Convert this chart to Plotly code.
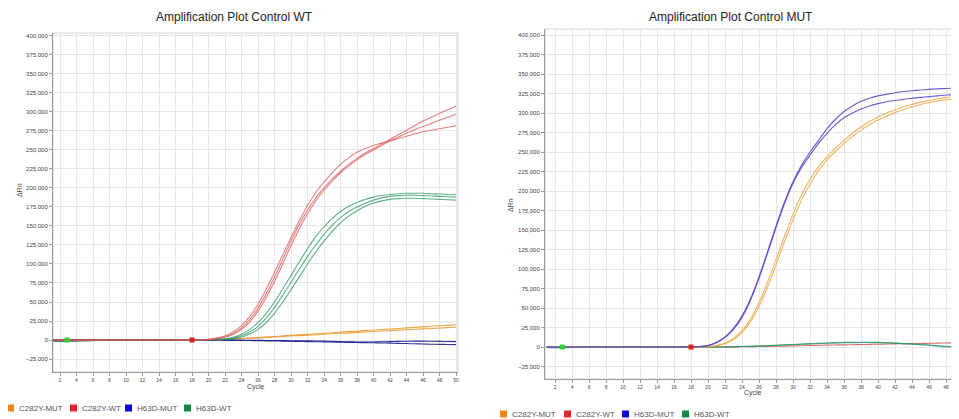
import plotly.graph_objects as go

# page body has an 8px margin, so the figure is sized to end at the window edge
OFF = 8
W, H = 959 - OFF, 419 - OFF

cycles = list(range(1, 51))

# ---------------- Control WT (left) ----------------
wt_c282y_wt = [
    [0, 0, -200, -300, -200, -100, 0, 0, 100, 0, -100, 0, 0, 100, 0, 0, 100, 200, 400,
     800, 2000, 4500, 9000, 16000, 27000, 42000, 61000, 83000, 106000, 130000,
     152000, 171000, 187000, 200000, 212000, 222000, 231000, 239000, 246000, 252000,
     258000, 264000, 270000, 276000, 282000, 288000, 293000, 298000, 303000, 308000],
    [0, -100, -200, -200, -100, 0, 0, 100, 0, 0, 0, 0, 100, 0, 0, 100, 100, 200, 300,
     500, 1500, 3500, 7500, 14000, 24000, 38000, 56000, 77000, 100000, 124000,
     146000, 166000, 183000, 197000, 209000, 220000, 229000, 237000, 244000, 250000,
     256000, 262000, 267000, 272000, 277000, 281000, 285000, 289000, 293000, 297000],
    [0, 0, -100, -200, -200, -100, 0, 0, 0, 100, 0, 0, 0, 0, 100, 100, 200, 300, 500,
     1000, 2500, 5500, 11000, 19000, 31000, 47000, 67000, 89000, 112000, 135000,
     157000, 177000, 194000, 208000, 220000, 231000, 240000, 247000, 252000, 256000,
     259000, 262000, 265000, 268000, 271000, 274000, 276000, 278000, 280000, 282000],
]

wt_h63d_wt = [
    [-1500, -1800, -1500, -1200, -900, -700, -500, -400, -300, -200, -100, 0, 0, 0, 0, 100, 100, 200, 300,
     500, 900, 1500, 3500, 7500, 14000, 23000, 35000, 50000, 67000, 85000,
     103000, 120000, 136000, 149000, 160000, 169000, 176000, 181000, 185000, 188000,
     190000, 191500, 192500, 193000, 193000, 193000, 192500, 192000, 191500, 191000],
    [-1600, -1900, -1600, -1300, -1000, -800, -600, -400, -300, -200, -100, 0, 0, 0, 0, 0, 100, 100, 200,
     400, 700, 1000, 2500, 5500, 10500, 18000, 29000, 43000, 59000, 76000,
     93000, 110000, 125000, 139000, 151000, 161000, 169000, 175000, 180000, 184000,
     187000, 189000, 190000, 190500, 190500, 190000, 189500, 189000, 188500, 188000],
    [-1400, -1700, -1400, -1100, -900, -700, -500, -300, -200, -100, 0, 0, 0, 0, 0, 0, 100, 100, 200,
     300, 500, 700, 1800, 4000, 8000, 14000, 23000, 35000, 50000, 66000,
     83000, 100000, 116000, 130000, 143000, 154000, 163000, 170000, 176000, 180000,
     183000, 185000, 186000, 186500, 186500, 186000, 185500, 185000, 184500, 184000],
]

wt_c282y_mut = [
    [-300, -300, -200, -200, -100, -100, 0, 0, 0, 0, 0, 0, 0, 0, 0, 0, 0, 0, 100,
     100, 200, 600, 1200, 1900, 2600, 3300, 3900, 4600, 5400, 6100,
     6800, 7400, 8200, 8900, 9600, 10300, 11000, 11600, 12400, 13100,
     13800, 14500, 15200, 15900, 16600, 17300, 18000, 18700, 19300, 20000],
    [-300, -200, -200, -100, -100, 0, 0, 0, 0, 0, 0, 0, 0, 0, 0, 0, 0, 0, 0,
     100, 200, 500, 1000, 1600, 2200, 2800, 3400, 4000, 4600, 5200,
     5800, 6400, 7000, 7600, 8200, 8800, 9400, 10000, 10600, 11200,
     11800, 12400, 13000, 13500, 14100, 14600, 15200, 15700, 16300, 16800],
]

wt_h63d_mut = [
    [-200, -200, -100, -100, 0, 0, 0, 0, 0, 0, 0, 0, 0, 0, 0, 0, 0, 0, 0,
     0, 0, -100, -300, -500, -700, -900, -1100, -1300, -1500, -1700,
     -1900, -2100, -2300, -2500, -2700, -2900, -3100, -3300, -3500, -3700,
     -3900, -4100, -4400, -4700, -5000, -5300, -5500, -5700, -5900, -6100],
    [-200, -100, -100, 0, 0, 0, 0, 0, 0, 0, 0, 0, 0, 0, 0, 0, 0, 0, 0,
     0, 0, -100, -200, -300, -400, -500, -600, -700, -800, -900,
     -1000, -1100, -1300, -1500, -1800, -2100, -2400, -2600, -2700, -2600,
     -2400, -2100, -1800, -1600, -1500, -1500, -1600, -1800, -2000, -2200],
]

# ---------------- Control MUT (right) ----------------
mut_h63d_mut = [
    [0, 0, 0, 0, 0, 0, 0, 0, 0, 0, 0, 0, 0, 0, 0, 0, 100, 200, 600,
     2000, 6000, 13000, 24000, 40000, 62000, 90000, 122000, 155000, 186000, 212000,
     233000, 250000, 265000, 280000, 292000, 302000, 309000, 315000, 319000, 322000,
     324000, 326000, 327500, 328500, 329500, 330300, 331000, 331500, 332000, 332300],
    [0, 0, 0, 0, 0, 0, 0, 0, 0, 0, 0, 0, 0, 0, 0, 0, 100, 200, 500,
     1800, 5500, 12000, 22500, 38000, 60000, 88000, 120000, 153000, 184000, 210000,
     230000, 246000, 261000, 274000, 285000, 294000, 300000, 305000, 309000, 312000,
     314500, 316000, 317500, 319000, 320000, 321000, 322000, 323000, 323500, 324000],
]

mut_c282y_mut = [
    [0, 0, 0, 0, 0, 0, 0, 0, 0, 0, 0, 0, 0, 0, 0, 0, 0, 100, 300,
     800, 2000, 5000, 11000, 21000, 36000, 57000, 83000, 112000, 142000, 170000,
     195000, 215000, 231000, 244000, 255000, 265000, 274000, 282000, 289000, 295000,
     300000, 304000, 308000, 311000, 314000, 316000, 318000, 320000, 321000, 322000],
    [0, 0, 0, 0, 0, 0, 0, 0, 0, 0, 0, 0, 0, 0, 0, 0, 0, 100, 200,
     600, 1600, 4200, 9500, 18500, 32500, 52000, 77000, 105000, 135000, 163000,
     188000, 209000, 226000, 240000, 251000, 261000, 270000, 278000, 285000, 291000,
     296000, 300500, 304500, 308000, 311000, 313500, 315500, 317000, 318000, 319000],
]

mut_c282y_wt = [
    [500, 400, 300, 200, 100, 0, 0, 0, 0, 0, 0, 0, 0, 0, 0, 0, 0, 0, 0,
     0, 0, 100, 200, 300, 400, 600, 800, 1000, 1200, 1400,
     1700, 2000, 2200, 2400, 2600, 2800, 3000, 3200, 3400, 3600,
     3800, 4000, 4200, 4400, 4600, 4800, 5000, 5200, 5500, 5800],
]

mut_h63d_wt = [
    [-800, -1000, -900, -700, -500, -300, -200, -100, 0, 0, 0, 0, 0, 0, 0, 0, 0, 0, 0,
     0, 0, 200, 400, 700, 1000, 1400, 1800, 2300, 2800, 3300,
     3800, 4300, 4800, 5200, 5600, 5900, 6100, 6200, 6100, 5900,
     5500, 5000, 4400, 3700, 3000, 2200, 1300, 400, -500, -1500],
    [-700, -900, -800, -600, -400, -300, -200, -100, 0, 0, 0, 0, 0, 0, 0, 0, 0, 0, 0,
     0, 0, 100, 300, 600, 900, 1200, 1600, 2000, 2500, 3000,
     3500, 4000, 4400, 4800, 5100, 5400, 5600, 5700, 5700, 5600,
     5300, 4900, 4400, 3800, 3200, 2500, 1700, 900, 0, -900],
]

threshold_cycles = [2.85, 18]

legend_names = ["C282Y-MUT", "C282Y-WT", "H63D-MUT", "H63D-WT"]
legend_colors = ["#f0851a", "#e8262b", "#0a0ad8", "#128a45"]

y_ticks = list(range(-25000, 400001, 25000))
x_ticks = list(range(2, 51, 2))

# ---------------- figure ----------------
fig = go.Figure()


def px_x(p):
    return (p - OFF) / W


def px_y(p):
    return 1 - (p - OFF) / H


def add_lines(series, color, xa, ya):
    for s in series:
        fig.add_trace(go.Scatter(x=cycles, y=s, mode="lines", xaxis=xa, yaxis=ya,
                                 line=dict(color=color, width=1.1, shape="spline", smoothing=0.6),
                                 showlegend=False, hoverinfo="skip"))


add_lines(wt_c282y_mut, "rgba(232,150,40,0.85)", "x", "y")
add_lines(wt_h63d_mut, "rgba(25,25,140,0.9)", "x", "y")
add_lines(wt_h63d_wt, "rgba(40,150,95,0.75)", "x", "y")
add_lines(wt_c282y_wt, "rgba(215,85,85,0.75)", "x", "y")

add_lines(mut_c282y_wt, "rgba(215,70,70,0.8)", "x2", "y2")
add_lines(mut_h63d_wt, "rgba(40,150,100,0.75)", "x2", "y2")
add_lines(mut_c282y_mut, "rgba(240,170,80,0.9)", "x2", "y2")
add_lines(mut_h63d_mut, "rgba(85,75,200,0.9)", "x2", "y2")

for xa, ya in (("x", "y"), ("x2", "y2")):
    fig.add_trace(go.Scatter(x=threshold_cycles, y=[0, 0], mode="markers", xaxis=xa, yaxis=ya,
                             marker=dict(symbol="square", size=5, color=["#33cc33", "#dd2222"]),
                             showlegend=False, hoverinfo="skip"))

axis_common = dict(showgrid=True, gridcolor="#e6e6e6", gridwidth=1, zeroline=False,
                   showline=True, linecolor="#9a9a9a", linewidth=1, mirror=False,
                   ticks="outside", ticklen=3, tickcolor="#9a9a9a",
                   tickfont=dict(family="Liberation Sans, Arial", size=6, color="#444"))
xfont = dict(family="Liberation Sans, Arial", size=5, color="#444")

fig.update_layout(
    width=W, height=H, margin=dict(l=0, r=0, t=0, b=0),
    paper_bgcolor="white", plot_bgcolor="white", showlegend=False,
    xaxis=dict(domain=[px_x(53), px_x(458)], range=[1.15, 50.24], tickvals=x_ticks,
               anchor="y", **{**axis_common, "tickfont": xfont}),
    yaxis=dict(domain=[px_y(372), px_y(33)], range=[-42100, 403900], tickvals=y_ticks,
               tickformat=",d", anchor="x", **axis_common),
    xaxis2=dict(domain=[px_x(545), 1.0], range=[0.82, 49.53], tickvals=x_ticks,
                anchor="y2", **{**axis_common, "tickfont": xfont}),
    yaxis2=dict(domain=[px_y(379), px_y(29)], range=[-41000, 407700], tickvals=y_ticks,
                tickformat=",d", anchor="x2", **axis_common),
)

# plot-area frames (light) for top/right edges
for xd, yd in (([53, 458], [372, 33]), ([545, 959], [379, 29])):
    fig.add_shape(type="rect", xref="paper", yref="paper",
                  x0=px_x(xd[0]), x1=px_x(xd[1]), y0=px_y(yd[0]), y1=px_y(yd[1]),
                  line=dict(color="#d4d4d4", width=1), layer="below")

ann_font = dict(family="Liberation Sans, Arial", color="#222")
small = dict(size=7, family="Liberation Sans, Arial", color="#444")
annotations = [
    dict(text="Amplification Plot Control WT", x=px_x(234), y=px_y(17), font=dict(size=12, **ann_font)),
    dict(text="Amplification Plot Control MUT", x=px_x(731), y=px_y(17), font=dict(size=12, **ann_font)),
    dict(text="Cycle", x=px_x(256), y=px_y(387), font=small),
    dict(text="Cycle", x=px_x(753), y=px_y(393), font=small),
    dict(text="ΔRn", x=px_x(19), y=px_y(190), textangle=-90, font=small),
    dict(text="ΔRn", x=px_x(510), y=px_y(205), textangle=-90, font=small),
]
for a in annotations:
    fig.add_annotation(xref="paper", yref="paper", showarrow=False, xanchor="center", yanchor="middle", **a)

# manual legends
legend_sets = [
    ([7, 70, 125, 184], 408),
    ([500, 564, 622, 682], 414),
]
for xs, yc in legend_sets:
    for name, col, x0 in zip(legend_names, legend_colors, xs):
        fig.add_shape(type="rect", xref="paper", yref="paper",
                      x0=px_x(x0), x1=px_x(x0 + 7), y0=px_y(yc + 3.5), y1=px_y(yc - 3.5),
                      line=dict(width=0), fillcolor=col)
        fig.add_annotation(xref="paper", yref="paper", showarrow=False, x=px_x(x0 + 10), y=px_y(yc),
                           xanchor="left", yanchor="middle", text=name,
                           font=dict(size=8, family="Liberation Sans, Arial", color="#555"))

fig.write_html("out.html")
